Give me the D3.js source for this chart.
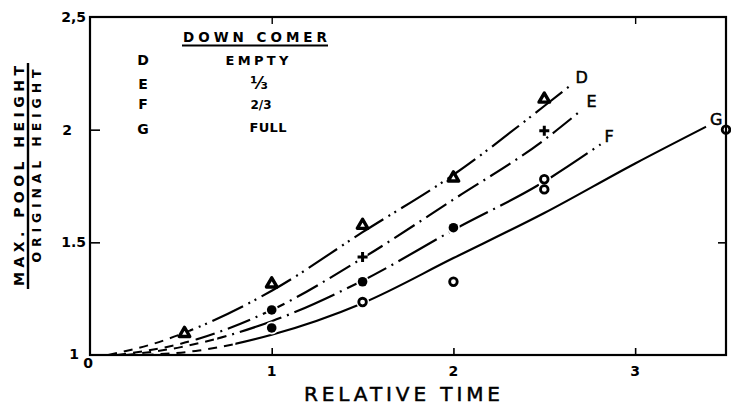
<!DOCTYPE html>
<html>
<head>
<meta charset="utf-8">
<script src="https://cdn.jsdelivr.net/npm/d3@7/dist/d3.min.js"></script>
<style>
  html, body { margin: 0; padding: 0; background: #fff; }
  svg { display: block; }
  text { font-family: "DejaVu Sans", sans-serif; fill: #000; }
</style>
</head>
<body>
<svg id="chart" width="731" height="408"></svg>
<script>
// Axis ticks
const xTicks = [0, 1, 2, 3];
const xTickLabels = ["0", "1", "2", "3"];
const yTicks = [1, 1.5, 2, 2.5];
const yTickLabels = ["1", "1.5", "2", "2,5"];

// Down-comer cases
const seriesNames = ["D", "E", "F", "G"];
const seriesLegend = ["EMPTY", "⅓", "2/3", "FULL"];

// Faired curves (relative time, max pool height / original height)
const curveD = [[0.1, 1.0], [0.35, 1.05], [0.6, 1.125], [1, 1.285], [1.5, 1.545], [2, 1.80], [2.5, 2.105], [2.65, 2.2]];
const curveE = [[0.15, 1.0], [0.5, 1.05], [1, 1.2], [1.5, 1.43], [2, 1.69], [2.5, 1.955], [2.71, 2.09]];
const curveF = [[0.2, 1.0], [0.5, 1.035], [1, 1.15], [1.5, 1.33], [2, 1.555], [2.5, 1.77], [2.81, 1.935]];
const curveG = [[0.3, 1.0], [0.6, 1.02], [1, 1.09], [1.5, 1.23], [2, 1.43], [2.5, 1.63], [3, 1.85], [3.39, 2.013]];

// Measured points, grouped by symbol
const triangles = [[0.52, 1.10], [1, 1.32], [1.5, 1.58], [2, 1.79], [2.5, 2.14]];
const pluses = [[1.5, 1.435], [2.5, 1.995]];
const dots = [[1, 1.20], [1, 1.12], [1.5, 1.325], [2, 1.565]];
const rings = [[1.5, 1.235], [2, 1.325], [2.5, 1.735], [2.5, 1.78], [3.5, 2.0]];

const svg = d3.select("#chart");
const plotL = 90, plotR = 726, plotT = 17, plotB = 355;

const x = d3.scaleLinear().domain([0, 3.5]).range([plotL, plotR]);
const y = d3.scaleLinear().domain([1, 2.5]).range([plotB, plotT]);

// Curve styles: dashed start, then each case's own pattern
const curves = [
  { name: "D", pts: curveD, split: 0.55, dash: "34,6,2,5,2,6" },
  { name: "E", pts: curveE, split: 0.6, dash: "24,6,2,6" },
  { name: "F", pts: curveF, split: 0.7, dash: "44,6,2,6" },
  { name: "G", pts: curveG, split: 0.8, dash: null }
];

const defs = svg.append("defs");
const line = d3.line().x(d => x(d[0])).y(d => y(d[1])).curve(d3.curveMonotoneX);

curves.forEach((c, i) => {
  const sx = x(c.split);
  defs.append("clipPath").attr("id", "pre" + i)
    .append("rect").attr("x", 0).attr("y", 0).attr("width", sx).attr("height", 408);
  defs.append("clipPath").attr("id", "post" + i)
    .append("rect").attr("x", sx).attr("y", 0).attr("width", 731 - sx).attr("height", 408);

  svg.append("path").datum(c.pts)
    .attr("d", line).attr("fill", "none").attr("stroke", "#000")
    .attr("stroke-width", 2).attr("stroke-dasharray", "9,7")
    .attr("clip-path", `url(#pre${i})`);
  svg.append("path").datum(c.pts)
    .attr("d", line).attr("fill", "none").attr("stroke", "#000")
    .attr("stroke-width", 2.2).attr("stroke-dasharray", c.dash)
    .attr("clip-path", `url(#post${i})`);

  const end = c.pts[c.pts.length - 1];
  svg.append("text")
    .attr("x", x(end[0]) + 4).attr("y", y(end[1]) - 2)
    .attr("font-size", 16).attr("stroke", "#000").attr("stroke-width", 0.5)
    .text(c.name);
});

// Markers (white halo breaks the curve around each symbol)
const tri = d3.symbol().type(d3.symbolTriangle).size(48);
svg.append("g").selectAll("path").data(triangles).join("path")
  .attr("d", tri)
  .attr("transform", d => `translate(${x(d[0])},${y(d[1]) + 1})`)
  .attr("fill", "#fff").attr("stroke", "#000").attr("stroke-width", 3.4)
  .attr("stroke-linejoin", "round");

svg.append("g").selectAll("g").data(pluses).join("g")
  .attr("transform", d => `translate(${x(d[0])},${y(d[1])})`)
  .call(g => {
    g.append("path").attr("d", "M-5,0H5M0,-5V5").attr("stroke", "#fff").attr("stroke-width", 7);
    g.append("path").attr("d", "M-5,0H5M0,-5V5").attr("stroke", "#000").attr("stroke-width", 3);
  });

const dotG = svg.append("g");
dotG.selectAll("circle.halo").data(dots).join("circle").attr("class", "halo")
  .attr("cx", d => x(d[0])).attr("cy", d => y(d[1])).attr("r", 6.5).attr("fill", "#fff");
dotG.selectAll("circle.dot").data(dots).join("circle").attr("class", "dot")
  .attr("cx", d => x(d[0])).attr("cy", d => y(d[1])).attr("r", 4.8).attr("fill", "#000");

const ringG = svg.append("g");
ringG.selectAll("circle.halo").data(rings).join("circle").attr("class", "halo")
  .attr("cx", d => x(d[0])).attr("cy", d => y(d[1])).attr("r", 6.5).attr("fill", "#fff");
ringG.selectAll("circle.ring").data(rings).join("circle").attr("class", "ring")
  .attr("cx", d => x(d[0])).attr("cy", d => y(d[1])).attr("r", 3.8)
  .attr("fill", "#fff").attr("stroke", "#000").attr("stroke-width", 2.8);

// Frame
svg.append("rect")
  .attr("x", plotL).attr("y", plotT).attr("width", plotR - plotL).attr("height", plotB - plotT)
  .attr("fill", "none").attr("stroke", "#000").attr("stroke-width", 2.2);

// Axes
const bottomAxis = d3.axisBottom(x).tickValues(xTicks.slice(1)).tickSize(-7).tickFormat("");
svg.append("g").attr("transform", `translate(0,${plotB})`).call(bottomAxis)
  .call(g => g.select(".domain").remove())
  .call(g => g.selectAll("line").attr("stroke-width", 1.6));

const leftAxis = d3.axisLeft(y).tickValues(yTicks.slice(1, 3)).tickSize(-10).tickFormat("");
svg.append("g").attr("transform", `translate(${plotL},0)`).call(leftAxis)
  .call(g => g.select(".domain").remove())
  .call(g => g.selectAll("line").attr("stroke-width", 1.6));

const rightAxis = d3.axisRight(y).tickValues([1.5]).tickSize(-8).tickFormat("");
svg.append("g").attr("transform", `translate(${plotR},0)`).call(rightAxis)
  .call(g => g.select(".domain").remove())
  .call(g => g.selectAll("line").attr("stroke-width", 1.6));

const topAxis = d3.axisTop(x).tickValues([1, 3]).tickSize(-7).tickFormat("");
svg.append("g").attr("transform", `translate(0,${plotT})`).call(topAxis)
  .call(g => g.select(".domain").remove())
  .call(g => g.selectAll("line").attr("stroke-width", 1.4));

// Tick labels
svg.append("g").selectAll("text").data(xTicks).join("text")
  .attr("x", d => x(d) + (d === 0 ? -2 : 0))
  .attr("y", d => d === 0 ? 368 : 376)
  .attr("text-anchor", "middle").attr("font-size", 14).attr("font-weight", "bold")
  .text((d, i) => xTickLabels[i]);

svg.append("g").selectAll("text").data(yTicks).join("text")
  .attr("x", d => d === 2 ? 72 : (d === 1 ? 79 : 86))
  .attr("y", d => y(d) + (d === 1 ? 4 : 5))
  .attr("text-anchor", "end").attr("font-size", 14).attr("font-weight", "bold")
  .text((d, i) => yTickLabels[i]);

// Axis titles
svg.append("text").attr("x", 402).attr("y", 401)
  .attr("text-anchor", "middle").attr("font-size", 20)
  .attr("stroke", "#000").attr("stroke-width", 0.5)
  .attr("textLength", 196).attr("lengthAdjust", "spacing")
  .text("RELATIVE TIME");

const yt = svg.append("g").attr("transform", "translate(0,176) rotate(-90)");
yt.append("text").attr("x", 0).attr("y", 24)
  .attr("text-anchor", "middle").attr("font-size", 14).attr("font-weight", "bold")
  .attr("textLength", 220).attr("lengthAdjust", "spacing")
  .text("MAX. POOL HEIGHT");
yt.append("line").attr("x1", -113).attr("x2", 113).attr("y1", 28).attr("y2", 28)
  .attr("stroke", "#000").attr("stroke-width", 2.4);
yt.append("text").attr("x", 10).attr("y", 41)
  .attr("text-anchor", "middle").attr("font-size", 12.5).attr("font-weight", "bold")
  .attr("textLength", 193).attr("lengthAdjust", "spacing")
  .text("ORIGINAL HEIGHT");

// Legend
svg.append("text").attr("x", 255).attr("y", 42)
  .attr("text-anchor", "middle").attr("font-size", 13.5).attr("font-weight", "bold")
  .attr("textLength", 144).attr("lengthAdjust", "spacing")
  .text("DOWN COMER");
svg.append("line").attr("x1", 182).attr("x2", 328).attr("y1", 45.5).attr("y2", 45.5)
  .attr("stroke", "#000").attr("stroke-width", 2.2);

const legendY = [65, 89, 109, 132];
const legendX = [257, 259, 261, 268];
const legendLen = [63, null, null, 37];
seriesNames.forEach((n, i) => {
  svg.append("text").attr("x", 143).attr("y", legendY[i] + (i === 3 ? 2 : 0))
    .attr("text-anchor", "middle").attr("font-size", 14).attr("font-weight", "bold")
    .text(n);
  const t = svg.append("text").attr("x", legendX[i]).attr("y", legendY[i])
    .attr("text-anchor", "middle")
    .attr("font-size", i === 1 ? 17 : (i === 2 ? 12 : 13)).attr("font-weight", "bold")
    .text(seriesLegend[i]);
  if (legendLen[i]) t.attr("textLength", legendLen[i]).attr("lengthAdjust", "spacing");
});
</script>
</body>
</html>
